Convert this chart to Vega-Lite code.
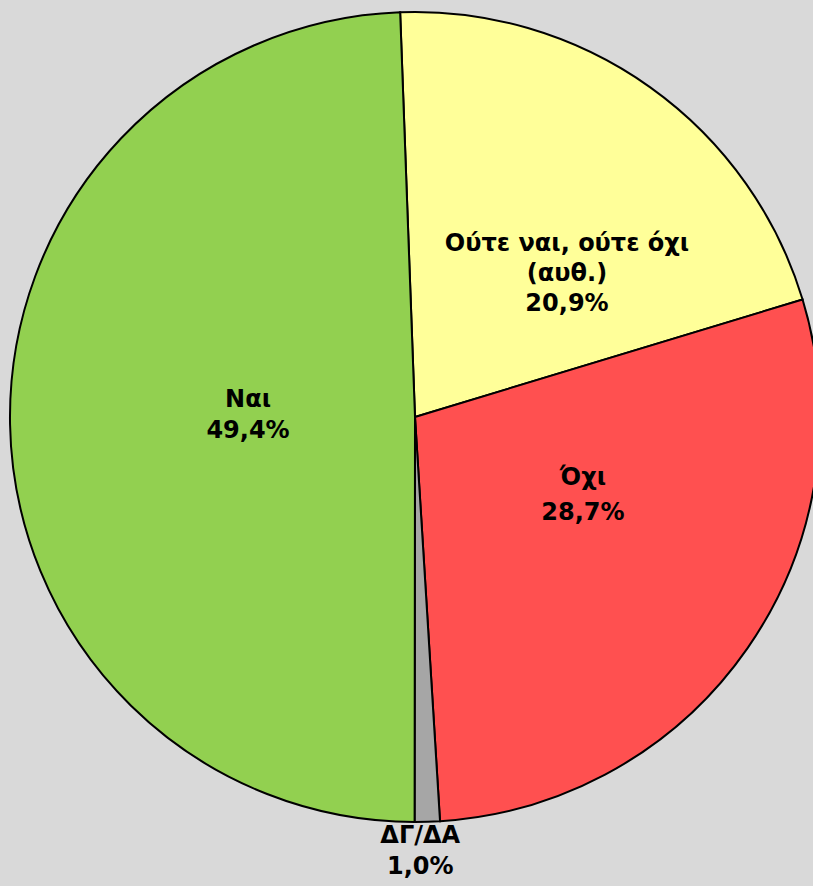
{
  "$schema": "https://vega.github.io/schema/vega-lite/v6.json",
  "width": 796,
  "height": 834,
  "autosize": {"type": "none"},
  "padding": {"left": 17, "right": 0, "top": 0, "bottom": 52},
  "background": "#d9d9d9",
  "config": {"view": {"stroke": null}},
  "data": {
    "values": [
      {"answer": "Ούτε ναι, ούτε όχι (αυθ.)", "label": "Ούτε ναι, ούτε όχι\n(αυθ.)\n20,9%", "pct": 20.9, "ord": 1},
      {"answer": "Όχι", "label": "Όχι\n28,7%", "pct": 28.7, "ord": 2},
      {"answer": "ΔΓ/ΔΑ", "label": "ΔΓ/ΔΑ\n1,0%", "pct": 1.0, "ord": 3},
      {"answer": "Ναι", "label": "Ναι\n49,4%", "pct": 49.4, "ord": 4}
    ]
  },
  "encoding": {
    "theta": {"field": "pct", "type": "quantitative", "stack": true, "scale": {"range": [-0.0367, 6.2465]}},
    "order": {"field": "ord", "type": "quantitative"}
  },
  "layer": [
    {
      "mark": {"type": "arc", "outerRadius": 405, "stroke": "#000000", "strokeWidth": 2},
      "encoding": {
        "color": {
          "field": "answer", "type": "nominal", "legend": null,
          "scale": {
            "domain": ["Ούτε ναι, ούτε όχι (αυθ.)", "Όχι", "ΔΓ/ΔΑ", "Ναι"],
            "range": ["#ffff99", "#ff5050", "#a6a6a6", "#92d050"]
          }
        }
      }
    },
    {
      "mark": {"type": "text", "radius": 210, "dx": 30, "dy": -2, "font": "DejaVu Sans", "fontWeight": "bold", "fontSize": 24, "lineHeight": 30, "lineBreak": "\n", "align": "center", "baseline": "middle", "color": "#000000"},
      "encoding": {"text": {"condition": {"test": "datum.ord == 1", "field": "label"}, "value": ""}}
    },
    {
      "mark": {"type": "text", "radius": 185, "dx": 16, "dy": -45, "font": "DejaVu Sans", "fontWeight": "bold", "fontSize": 24, "lineHeight": 35, "lineBreak": "\n", "align": "center", "baseline": "middle", "color": "#000000"},
      "encoding": {"text": {"condition": {"test": "datum.ord == 2", "field": "label"}, "value": ""}}
    },
    {
      "mark": {"type": "text", "radius": 436, "dx": -8, "dy": -17, "font": "DejaVu Sans", "fontWeight": "bold", "fontSize": 24, "lineHeight": 31.5, "lineBreak": "\n", "align": "center", "baseline": "middle", "color": "#000000"},
      "encoding": {"text": {"condition": {"test": "datum.ord == 3", "field": "label"}, "value": ""}}
    },
    {
      "mark": {"type": "text", "radius": 167, "dx": 0, "dy": -20, "font": "DejaVu Sans", "fontWeight": "bold", "fontSize": 24, "lineHeight": 31.5, "lineBreak": "\n", "align": "center", "baseline": "middle", "color": "#000000"},
      "encoding": {"text": {"condition": {"test": "datum.ord == 4", "field": "label"}, "value": ""}}
    }
  ]
}
